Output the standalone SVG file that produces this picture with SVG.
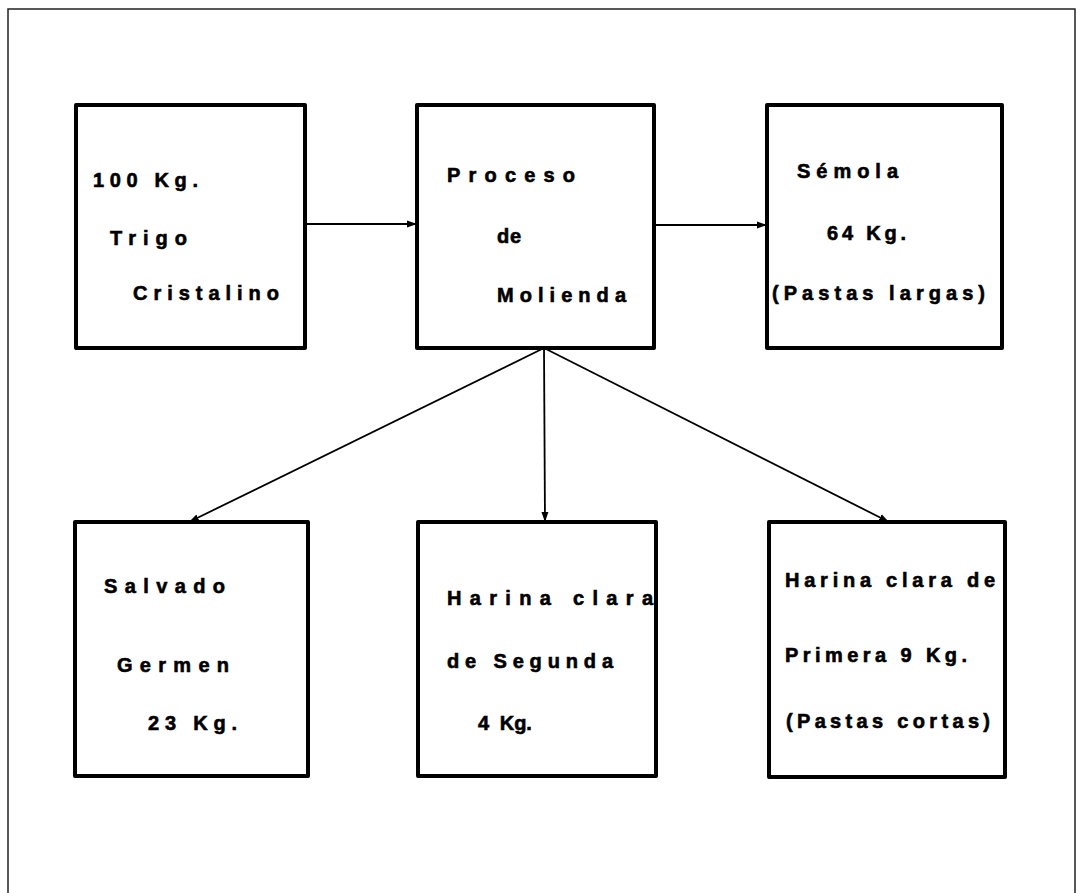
<svg xmlns="http://www.w3.org/2000/svg" width="1077" height="893" viewBox="0 0 1077 893">
<style>
.frame{fill:none;stroke:#222;stroke-width:1.5}
.box{fill:none;stroke:#000;stroke-width:4;stroke-linejoin:round}
.conn{fill:none;stroke:#000;stroke-width:1.8}
text{font-family:"Liberation Sans",Arial,sans-serif;font-weight:bold;font-size:20px;fill:#000;stroke:#000;stroke-width:0.6}
</style>
<defs>
<marker id="ah" markerUnits="userSpaceOnUse" markerWidth="12" markerHeight="10" refX="10" refY="4" orient="auto">
<path d="M0,0.5 L10,4 L0,7.5 Z" fill="#000"/>
</marker>
</defs>
<rect width="1077" height="893" fill="#fff"/>
<path class="frame" d="M8,893 L8,9 L1075,9 L1075,893"/>
<g id="connectors">
<line class="conn" x1="305" y1="224" x2="417" y2="224" marker-end="url(#ah)"/>
<line class="conn" x1="654" y1="225" x2="767" y2="225" marker-end="url(#ah)"/>
<line class="conn" x1="544" y1="348" x2="189" y2="522" marker-end="url(#ah)"/>
<line class="conn" x1="544" y1="348" x2="545" y2="522" marker-end="url(#ah)"/>
<line class="conn" x1="544" y1="348" x2="889" y2="522" marker-end="url(#ah)"/>
</g>
<g id="n1">
<rect class="box" x="76" y="105" width="229" height="243"/>
<text x="93" y="187" textLength="105" lengthAdjust="spacing">100 Kg.</text>
<text x="110" y="245" textLength="77" lengthAdjust="spacing">Trigo</text>
<text x="133" y="300" textLength="146" lengthAdjust="spacing">Cristalino</text>
</g>
<g id="n2">
<rect class="box" x="417" y="105" width="237" height="243"/>
<text x="447" y="182" textLength="128" lengthAdjust="spacing">Proceso</text>
<text x="497" y="243" textLength="24" lengthAdjust="spacing">de</text>
<text x="497" y="302" textLength="129" lengthAdjust="spacing">Molienda</text>
</g>
<g id="n3">
<rect class="box" x="767" y="105" width="235" height="243"/>
<text x="797" y="178" textLength="101" lengthAdjust="spacing">Sémola</text>
<text x="827" y="240" textLength="79" lengthAdjust="spacing">64 Kg.</text>
<text x="772" y="300" textLength="213" lengthAdjust="spacing">(Pastas largas)</text>
</g>
<g id="n4">
<rect class="box" x="75" y="522" width="233" height="254"/>
<text x="104" y="593" textLength="121" lengthAdjust="spacing">Salvado</text>
<text x="117" y="672" textLength="112" lengthAdjust="spacing">Germen</text>
<text x="148" y="730" textLength="89" lengthAdjust="spacing">23 Kg.</text>
</g>
<g id="n5">
<rect class="box" x="418" y="522" width="238" height="254"/>
<text x="447" y="605" textLength="206" lengthAdjust="spacing">Harina clara</text>
<text x="447" y="668" textLength="166" lengthAdjust="spacing">de Segunda</text>
<text x="478" y="730">4 <tspan dx="5">Kg.</tspan></text>
</g>
<g id="n6">
<rect class="box" x="769" y="522" width="236" height="255"/>
<text x="785" y="587" textLength="210" lengthAdjust="spacing">Harina clara de</text>
<text x="785" y="662" textLength="182" lengthAdjust="spacing">Primera 9 Kg.</text>
<text x="786" y="728" textLength="204" lengthAdjust="spacing">(Pastas cortas)</text>
</g>
</svg>
